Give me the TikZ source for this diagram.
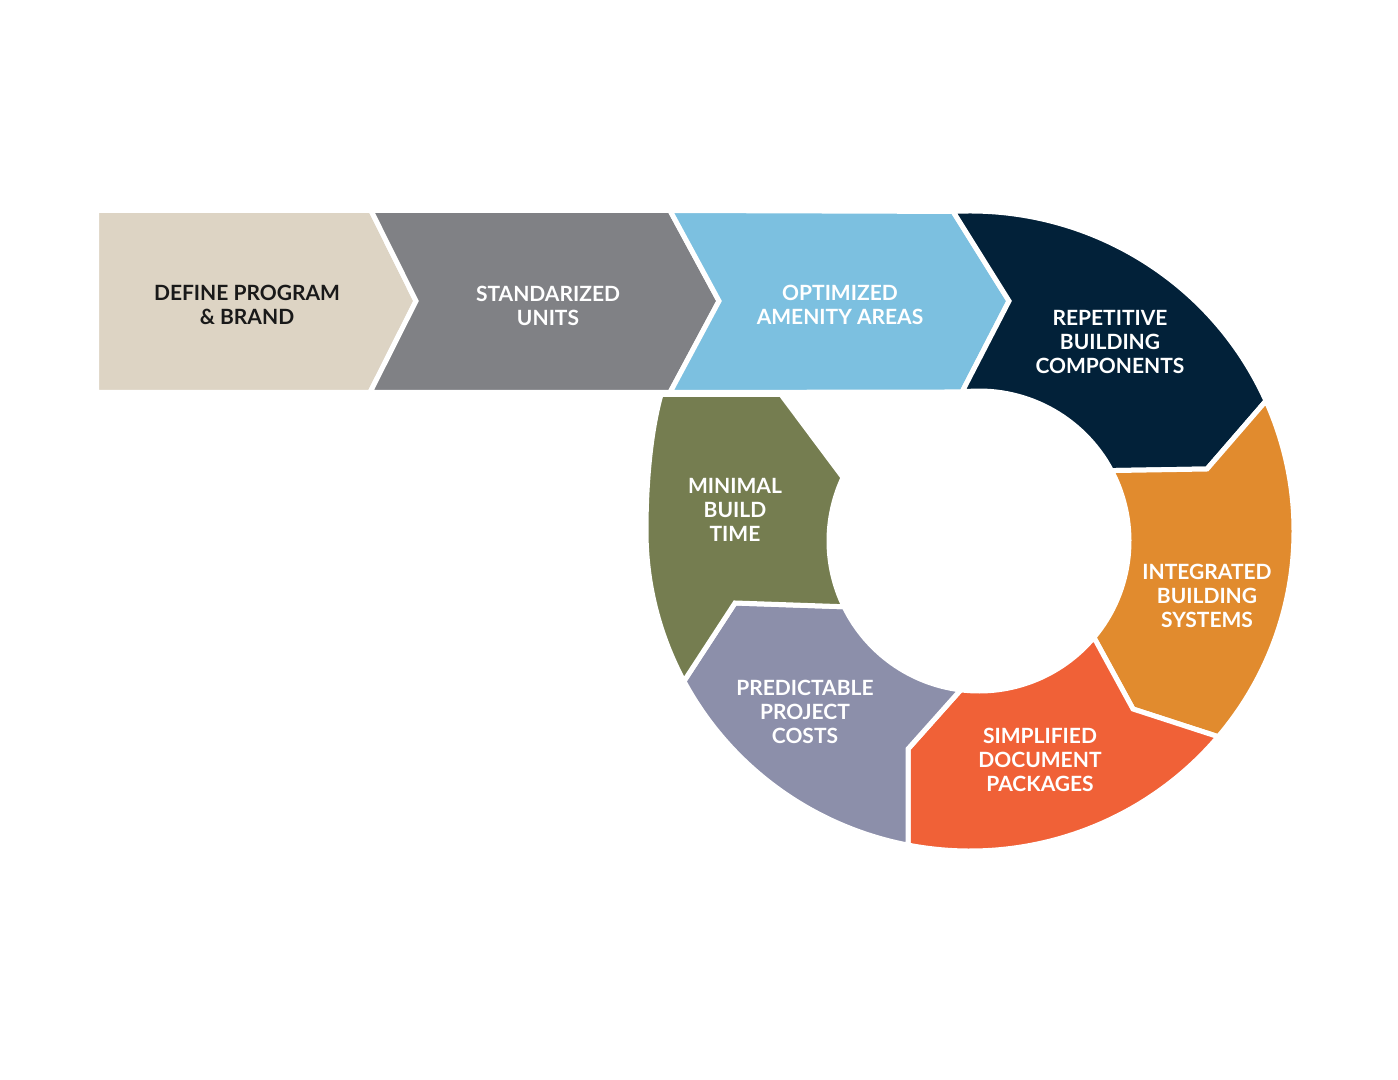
\documentclass[tikz,border=0pt]{standalone}
\usepackage{fontspec}
\setmainfont{Lato}
\usepackage{tikz}
\usetikzlibrary{calc}

\definecolor{sand}{RGB}{221,212,196}
\definecolor{slate}{RGB}{128,129,133}
\definecolor{sky}{RGB}{124,192,224}
\definecolor{navy}{RGB}{2,33,57}
\definecolor{amber}{RGB}{225,139,46}
\definecolor{vermilion}{RGB}{240,97,55}
\definecolor{lavender}{RGB}{140,143,170}
\definecolor{olive}{RGB}{117,125,80}

\begin{document}
\begin{tikzpicture}[
            x = 0.5pt, y = -0.5pt, % one unit per pixel, y down
            piece/.style = {draw = white, line width = 2.5pt}, % white gaps
            ro/.style = {x radius = 324, y radius = 320}, % outer ring
            ri/.style = {radius = 150}, % inner ring
            lbl/.style = {font = \bfseries\fontsize{10.5}{12}\selectfont,
                          text = white, align = center}
        ]

	\useasboundingbox (0,0) rectangle (1398,1080);

	\coordinate (O) at (970,531);
	\coordinate (I) at (979,541);

	% ring boundaries: outer end, tip, inner end
	\path (O) ++(-93:324 and 320) coordinate (o3);
	\path (O) ++(-24:324 and 320) coordinate (o4);
	\path (O) ++(40:324 and 320)  coordinate (o5);
	\path (O) ++(101:324 and 320) coordinate (o6);
	\path (O) ++(152:324 and 320) coordinate (o7);
	\path (O) ++(180:324 and 320) coordinate (o8);
	\path (I) ++(-96.5:150) coordinate (i3);
	\path (I) ++(-28:150)   coordinate (i4);
	\path (I) ++(40:150)    coordinate (i5);
	\path (I) ++(97:150)    coordinate (i6);
	\path (I) ++(154:150)   coordinate (i7);
	\path (I) ++(205:150)   coordinate (i8);
	\coordinate (t3) at (1009,301);
	\coordinate (t4) at (1207,469);
	\coordinate (t5) at (1133,709);
	\coordinate (t6) at (908,749);
	\coordinate (t7) at (735,603);

	% straight band
	\filldraw[piece, fill=sand] (96.5,210.5) -- (371,210.5) -- (416,301)
		-- (370,392.5) -- (96.5,392.5) -- cycle;
	\filldraw[piece, fill=slate] (371,210.5) -- (670,210.5) -- (719,301)
		-- (670,392.5) -- (370,392.5) -- (416,301) -- cycle;
	\filldraw[piece, fill=sky] (670,210.5) -- (o3) -- (t3) -- (i3)
		-- (670,392.5) -- (719,301) -- cycle;

	% ring
	\filldraw[piece, fill=navy] (o3) arc[ro, start angle=-93, end angle=-24]
		-- (t4) -- (i4) arc[ri, start angle=-28, end angle=-96.5] -- (t3) -- cycle;
	\filldraw[piece, fill=amber] (o4) arc[ro, start angle=-24, end angle=40]
		-- (t5) -- (i5) arc[ri, start angle=40, end angle=-28] -- (t4) -- cycle;
	\filldraw[piece, fill=vermilion] (o5) arc[ro, start angle=40, end angle=101]
		-- (t6) -- (i6) arc[ri, start angle=97, end angle=40] -- (t5) -- cycle;
	\filldraw[piece, fill=lavender] (o6) arc[ro, start angle=101, end angle=152]
		-- (t7) -- (i7) arc[ri, start angle=154, end angle=97] -- (t6) -- cycle;
	\filldraw[piece, fill=olive] (o7) arc[ro, start angle=152, end angle=180]
		.. controls (646,480) and (651,430) .. (661,394.5) -- (781,394.5)
		-- (i8) arc[ri, start angle=205, end angle=154] -- (t7) -- cycle;

	\node[lbl, text=black!90] (define) at (247,305) {DEFINE PROGRAM\\\& BRAND};
	\node[lbl] (units) at (548,306) {STANDARIZED\\UNITS};
	\node[lbl] (amenity) at (840,305) {OPTIMIZED\\AMENITY AREAS};
	\node[lbl] (repeat) at (1110,342) {REPETITIVE\\BUILDING\\COMPONENTS};
	\node[lbl] (systems) at (1207,596) {INTEGRATED\\BUILDING\\SYSTEMS};
	\node[lbl] (docs) at (1040,760) {SIMPLIFIED\\DOCUMENT\\PACKAGES};
	\node[lbl] (costs) at (805,712) {PREDICTABLE\\PROJECT\\COSTS};
	\node[lbl] (build) at (735,510) {MINIMAL\\BUILD\\TIME};

\end{tikzpicture}
\end{document}
